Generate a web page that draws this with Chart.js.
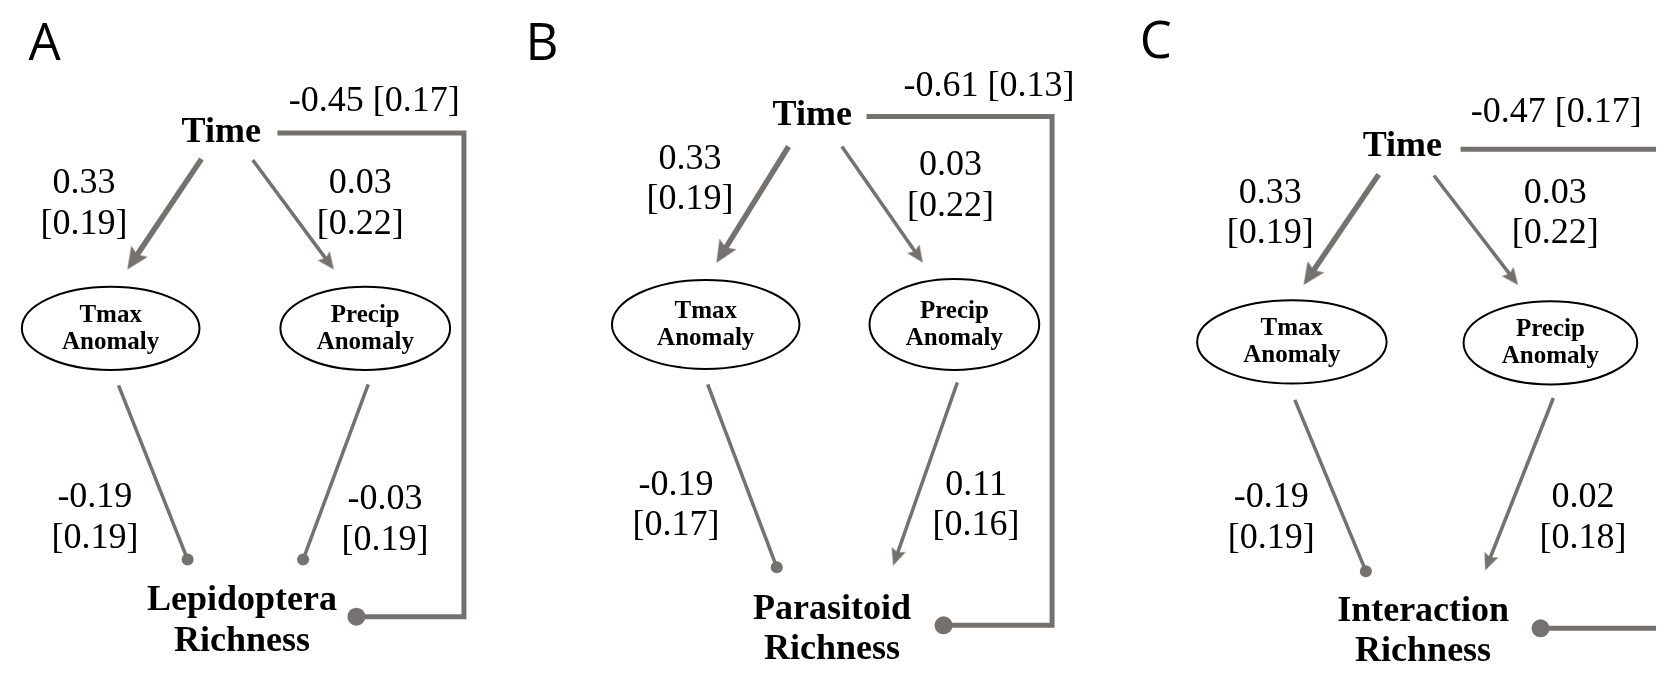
<!DOCTYPE html>
<html>
<head>
<meta charset="utf-8">
<script src="https://cdn.jsdelivr.net/npm/chart.js@4.4.1/dist/chart.umd.min.js"></script>
<style>
  html, body { margin: 0; padding: 0; background: #ffffff; overflow: hidden; }
  canvas { display: block; }
</style>
</head>
<body>
<canvas id="sem" width="1667" height="677"></canvas>
<script>
// Path models: standardized coefficients with [SE] for three response variables
const panelLetters = ['A', 'B', 'C'];
const responses = [['Lepidoptera', 'Richness'], ['Parasitoid', 'Richness'], ['Interaction', 'Richness']];
const predictors = [['Tmax', 'Anomaly'], ['Precip', 'Anomaly']];

const timeToTmax = [0.33, 0.33, 0.33];
const timeToTmaxSE = [0.19, 0.19, 0.19];
const timeToPrecip = [0.03, 0.03, 0.03];
const timeToPrecipSE = [0.22, 0.22, 0.22];
const tmaxToResponse = [-0.19, -0.19, -0.19];
const tmaxToResponseSE = [0.19, 0.17, 0.19];
const precipToResponse = [-0.03, 0.11, 0.02];
const precipToResponseSE = [0.19, 0.16, 0.18];
const timeToResponse = [-0.45, -0.61, -0.47];
const timeToResponseSE = [0.17, 0.13, 0.17];

// Node and path placement for each panel (in axis units, 1 unit = 1 px)
const layout = [
  {
    letter: [34, 51], time: [213, 135], topLabel: [368, 103],
    bracket: { y0: 126, x0: 270, x1: 459, y1: 626, xEnd: 350 },
    tmax: { c: [101, 328], r: [90, 43] }, precip: { c: [359, 328], r: [86, 43] },
    pTmax: [[193, 153], [118, 267]], pPrecip: [[245, 154], [327, 267]],
    pTmaxR: [[109, 387], [179, 567]], pPrecipR: [[362, 386], [296, 567]],
    lTmax: [74, 188], lPrecip: [354, 188], lTmaxR: [85, 513], lPrecipR: [379, 515],
    resp: [234, 619]
  },
  {
    letter: [538, 51], time: [812, 118], topLabel: [991, 88],
    bracket: { y0: 109, x0: 867, x1: 1055, y1: 635, xEnd: 945 },
    tmax: { c: [704, 324], r: [95, 46] }, precip: { c: [956, 324], r: [86, 47] },
    pTmax: [[788, 140], [715, 260]], pPrecip: [[842, 140], [924, 260]],
    pTmaxR: [[706, 386], [776, 575]], pPrecipR: [[959, 384], [894, 573]],
    lTmax: [688, 163], lPrecip: [952, 170], lTmaxR: [674, 500], lPrecipR: [978, 500],
    resp: [832, 628]
  },
  {
    letter: [1160, 49], time: [1410, 150], topLabel: [1566, 115],
    bracket: { y0: 143, x0: 1469, x1: 1690, y1: 638, xEnd: 1550 },
    tmax: { c: [1298, 342], r: [96, 43] }, precip: { c: [1560, 343], r: [88, 43] },
    pTmax: [[1386, 169], [1310, 283]], pPrecip: [[1442, 170], [1527, 283]],
    pTmaxR: [[1301, 402], [1373, 579]], pPrecipR: [[1563, 400], [1494, 578]],
    lTmax: [1276, 198], lPrecip: [1565, 198], lTmaxR: [1277, 513], lPrecipR: [1593, 513],
    resp: [1431, 630]
  }
];

const GREY = '#767171';
const THICK = 5.5;
const THIN = 3.5;
const SERIF = '"Liberation Serif", serif';

// Arrowhead glyphs used as point styles (drawn pointing up, rotated per path)
function makeHead(w, h) {
  const c = document.createElement('canvas');
  c.width = w; c.height = h;
  const g = c.getContext('2d');
  g.fillStyle = GREY;
  g.beginPath();
  g.moveTo(w / 2, 0);
  g.lineTo(w, h);
  g.lineTo(w / 2, h * 0.82);
  g.lineTo(0, h);
  g.closePath();
  g.fill();
  return c;
}
const heads = { thick: makeHead(20, 22), thin: makeHead(15, 17) };

const fmt = v => (v < 0 ? '-' : '') + Math.abs(v).toFixed(2);

const datasets = [];

// One path: strong effects (|b| >= 0.3) drawn heavy; positive ends in an arrow, negative in a dot
function addPath(from, to, coef, dotRadius) {
  const width = Math.abs(coef) >= 0.3 ? THICK : THIN;
  const dx = to[0] - from[0], dy = to[1] - from[1];
  const len = Math.hypot(dx, dy);
  const ux = dx / len, uy = dy / len;
  if (coef > 0) {
    const head = width === THICK ? heads.thick : heads.thin;
    const h = head.height;
    datasets.push({
      data: [{ x: from[0], y: from[1] }, { x: to[0] - ux * h * 0.6, y: to[1] - uy * h * 0.6 }],
      showLine: true, borderColor: GREY, borderWidth: width, borderCapStyle: 'butt',
      pointRadius: 0
    });
    datasets.push({
      data: [{ x: to[0] - ux * h / 2, y: to[1] - uy * h / 2 }],
      showLine: false, pointStyle: head, pointRadius: 10,
      pointRotation: (ctx) => {
        const sx = ctx.chart.scales.x, sy = ctx.chart.scales.y;
        const px = sx.getPixelForValue(to[0]) - sx.getPixelForValue(from[0]);
        const py = sy.getPixelForValue(to[1]) - sy.getPixelForValue(from[1]);
        return Math.atan2(px, -py) * 180 / Math.PI;
      }
    });
  } else {
    datasets.push({
      data: [{ x: from[0], y: from[1] }, { x: to[0], y: to[1] }],
      showLine: true, borderColor: GREY, borderWidth: width, borderCapStyle: 'butt',
      pointRadius: [0, dotRadius], pointBackgroundColor: GREY, pointBorderWidth: 0
    });
  }
}

layout.forEach((L, i) => {
  addPath(L.pTmax[0], L.pTmax[1], timeToTmax[i], 6);
  addPath(L.pPrecip[0], L.pPrecip[1], timeToPrecip[i], 6);
  addPath(L.pTmaxR[0], L.pTmaxR[1], tmaxToResponse[i], 6);
  addPath(L.pPrecipR[0], L.pPrecipR[1], precipToResponse[i], 6);
  // Direct Time -> response path, routed round the right-hand side
  const b = L.bracket;
  datasets.push({
    data: [{ x: b.x0, y: b.y0 }, { x: b.x1, y: b.y0 }, { x: b.x1, y: b.y1 }, { x: b.xEnd, y: b.y1 }],
    showLine: true, borderColor: GREY, borderWidth: Math.abs(timeToResponse[i]) >= 0.3 ? 5 : THIN,
    borderCapStyle: 'butt', borderJoinStyle: 'miter',
    pointRadius: [0, 0, 0, 9], pointBackgroundColor: GREY, pointBorderWidth: 0
  });
});

// Node ellipses and all text labels
const diagramText = {
  id: 'diagramText',
  beforeDraw(chart) {
    const ctx = chart.ctx;
    ctx.save();
    ctx.fillStyle = '#ffffff';
    ctx.fillRect(0, 0, chart.width, chart.height);
    ctx.restore();
  },
  afterDatasetsDraw(chart) {
    const { ctx, scales: { x, y } } = chart;
    const X = v => x.getPixelForValue(v);
    const Y = v => y.getPixelForValue(v);
    const text = (s, p, font, dy = 0) => {
      ctx.font = font;
      ctx.fillText(s, X(p[0]), Y(p[1] + dy));
    };
    const num = '36px ' + SERIF;
    const bold = 'bold 36px ' + SERIF;
    const small = 'bold 25px ' + SERIF;
    ctx.save();
    ctx.fillStyle = '#000000';
    ctx.textAlign = 'center';
    ctx.textBaseline = 'alphabetic';
    layout.forEach((L, i) => {
      // coefficient [SE] labels
      text(fmt(timeToResponse[i]) + ' [' + fmt(timeToResponseSE[i]) + ']', L.topLabel, num);
      [[L.lTmax, timeToTmax[i], timeToTmaxSE[i]],
       [L.lPrecip, timeToPrecip[i], timeToPrecipSE[i]],
       [L.lTmaxR, tmaxToResponse[i], tmaxToResponseSE[i]],
       [L.lPrecipR, precipToResponse[i], precipToResponseSE[i]]].forEach(([p, b, se]) => {
        text(fmt(b), p, num);
        text('[' + fmt(se) + ']', p, num, 42);
      });
      // node names
      text('Time', L.time, bold);
      text(responses[i][0], L.resp, bold);
      text(responses[i][1], L.resp, bold, 42);
      [[L.tmax, predictors[0]], [L.precip, predictors[1]]].forEach(([e, lines]) => {
        ctx.beginPath();
        ctx.lineWidth = 2;
        ctx.strokeStyle = '#000000';
        ctx.ellipse(X(e.c[0]), Y(e.c[1]),
          Math.abs(X(e.c[0] + e.r[0]) - X(e.c[0])),
          Math.abs(Y(e.c[1] + e.r[1]) - Y(e.c[1])), 0, 0, Math.PI * 2);
        ctx.stroke();
        text(lines[0], e.c, small, -7);
        text(lines[1], e.c, small, 21);
      });
    });
    // panel letters
    layout.forEach((L, i) => text(panelLetters[i], L.letter, '51px "Open Sans", sans-serif'));
    ctx.restore();
  }
};

new Chart(document.getElementById('sem'), {
  type: 'scatter',
  data: { datasets },
  options: {
    responsive: false,
    animation: false,
    devicePixelRatio: 1,
    events: [],
    layout: { padding: 0 },
    plugins: { legend: { display: false }, tooltip: { enabled: false } },
    scales: {
      x: { type: 'linear', min: 0, max: 1667, display: false },
      y: { type: 'linear', min: 0, max: 677, reverse: true, display: false }
    }
  },
  plugins: [diagramText]
});
</script>
</body>
</html>
